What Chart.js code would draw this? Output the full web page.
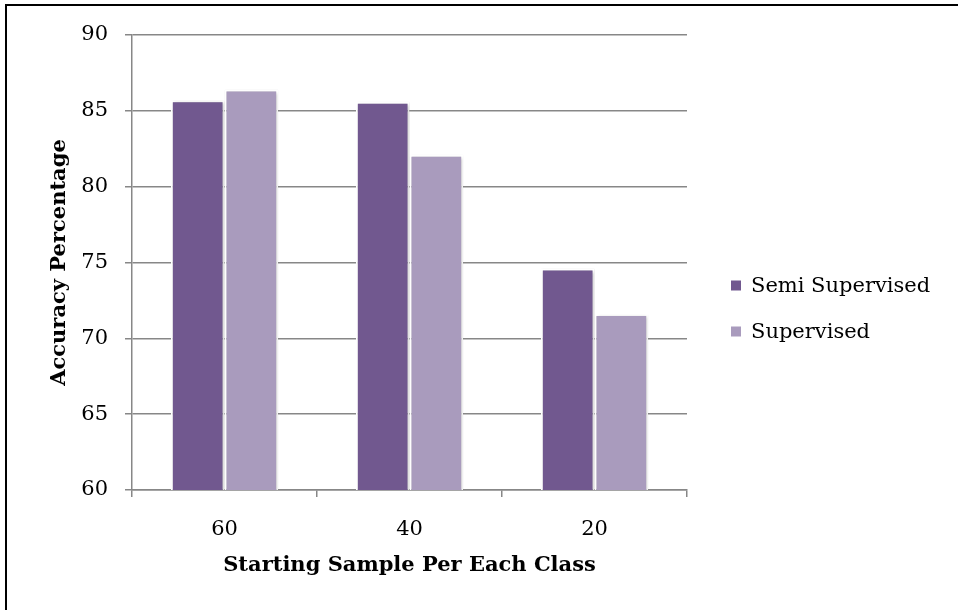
<!DOCTYPE html>
<html>
<head>
<meta charset="utf-8">
<script src="https://cdn.jsdelivr.net/npm/chart.js@4/dist/chart.umd.min.js"></script>
<style>
  html, body { margin: 0; padding: 0; background: #ffffff; }
  #wrap { width: 958px; height: 610px; position: relative; }
</style>
</head>
<body>
<div id="wrap"><canvas id="c" width="958" height="610"></canvas></div>
<script>
// Starting sample size per class and the resulting accuracy (%)
const categories = ['60', '40', '20'];
const semiSupervised = [85.7, 85.6, 74.6];
const supervised = [86.4, 82.1, 71.6];
const yTickValues = [60, 65, 70, 75, 80, 85, 90];

const seriesNames = ['Semi Supervised', 'Supervised'];
const seriesColors = ['#71588f', '#a99bbd'];

const FONT = '"DejaVu Serif", "Liberation Serif", serif';
const GRID = '#878787';

// Thin black frame along the top and left edge of the figure
const framePlugin = {
  id: 'frame',
  afterDraw(chart) {
    const ctx = chart.ctx;
    ctx.save();
    ctx.strokeStyle = '#000000';
    ctx.lineWidth = 2;
    ctx.beginPath();
    ctx.moveTo(958, 5);
    ctx.lineTo(6, 5);
    ctx.lineTo(6, 610);
    ctx.stroke();
    ctx.restore();
  }
};

// Soft drop shadow under the bars
const barShadow = {
  id: 'barShadow',
  beforeDatasetsDraw(chart) {
    const ctx = chart.ctx;
    ctx.save();
    ctx.shadowColor = 'rgba(0,0,0,0.25)';
    ctx.shadowBlur = 3;
    ctx.shadowOffsetX = 1;
    ctx.shadowOffsetY = 1;
  },
  afterDatasetsDraw(chart) {
    chart.ctx.restore();
  }
};

// Legend to the right of the plot: square swatch + series name per dataset
const sideLegend = {
  id: 'sideLegend',
  afterDraw(chart) {
    const ctx = chart.ctx;
    const area = chart.chartArea;
    const x0 = area.right + 44;
    const step = 46;
    const startY = (area.top + area.bottom) / 2 + 24;
    ctx.save();
    ctx.font = '21px ' + FONT;
    ctx.textBaseline = 'middle';
    ctx.textAlign = 'left';
    chart.data.datasets.forEach((ds, i) => {
      const cy = startY + i * step;
      ctx.fillStyle = ds.backgroundColor;
      ctx.fillRect(x0, cy - 6, 10, 10);
      ctx.fillStyle = '#000000';
      ctx.fillText(ds.label, x0 + 20, cy);
    });
    ctx.restore();
  }
};

new Chart(document.getElementById('c'), {
  type: 'bar',
  data: {
    labels: categories,
    datasets: [
      { label: seriesNames[0], data: semiSupervised, backgroundColor: seriesColors[0],
        borderColor: '#ffffff', borderWidth: 2 },
      { label: seriesNames[1], data: supervised, backgroundColor: seriesColors[1],
        borderColor: '#ffffff', borderWidth: 2 }
    ]
  },
  options: {
    responsive: false,
    animation: false,
    events: [],
    layout: { padding: { top: 35, left: 0, right: 271, bottom: 0 } },
    datasets: { bar: { categoryPercentage: 0.58, barPercentage: 1.0 } },
    plugins: {
      tooltip: { enabled: false },
      legend: { display: false }
    },
    scales: {
      x: {
        afterFit(s) { s.height = 120; },
        grid: { display: true, drawOnChartArea: false, drawTicks: true, tickLength: 7,
                color: GRID, lineWidth: 1.5, offset: true },
        border: { display: true, color: GRID, width: 1.5 },
        ticks: { color: '#000000', padding: 20, font: { family: FONT, size: 21 } },
        title: { display: true, text: 'Starting Sample Per Each Class', color: '#000000',
                 font: { family: FONT, size: 21, weight: 'bold' }, padding: { top: 0, bottom: 32 } }
      },
      y: {
        min: 60,
        max: 90,
        afterFit(s) { s.width = 132; },
        afterBuildTicks(s) { s.ticks = yTickValues.map(v => ({ value: v })); },
        grid: { color: GRID, lineWidth: 1.5, tickLength: 7, drawTicks: true },
        border: { display: true, color: GRID, width: 1.5 },
        ticks: { color: '#000000', padding: 17, font: { family: FONT, size: 21 } },
        title: { display: true, text: 'Accuracy Percentage', color: '#000000',
                 font: { family: FONT, size: 21, weight: 'bold' }, padding: { top: 47, bottom: 0 } }
      }
    }
  },
  plugins: [framePlugin, barShadow, sideLegend]
});
</script>
</body>
</html>
